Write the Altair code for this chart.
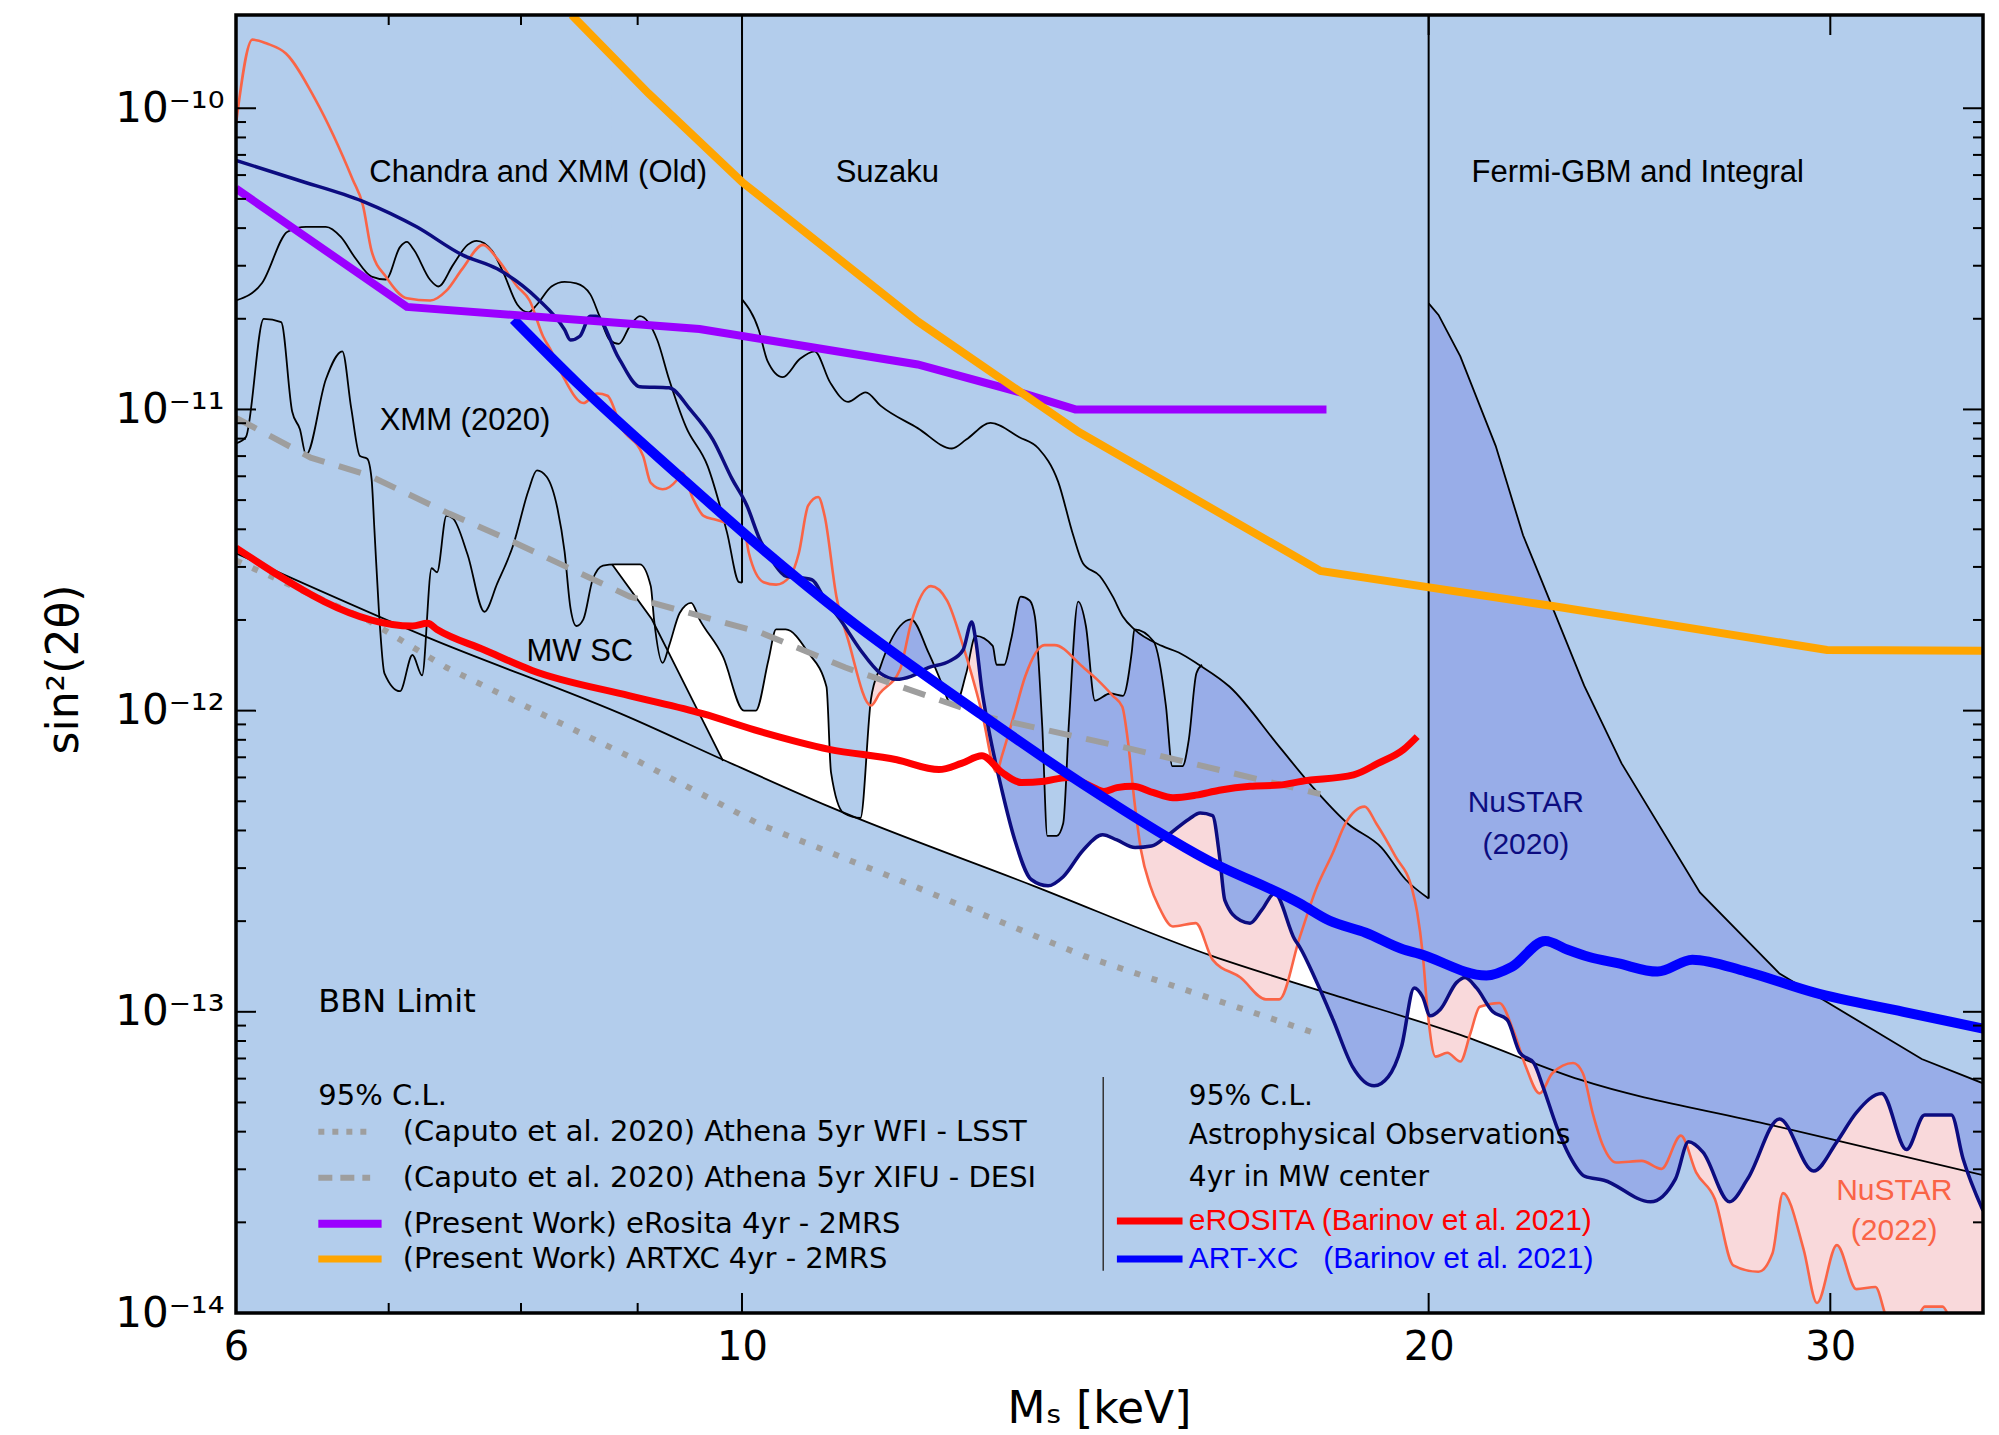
import altair as alt
import pandas as pd

W, H = 1747, 1298
XDOM = [6, 35]
YDOM = [1e-14, 2.04e-10]

LIGHT = "#b3cdec"
DARK = "#98ade8"
PINK = "#f9d9db"
SALMON = "#fa6446"
NAVY = "#0c0c80"
GRAY = "#9e9e9e"

# ---------------- data ----------------
# Chandra and XMM (Old) boundary
A_x = [6.0, 6.16, 6.32, 6.44, 6.57, 6.67, 6.77, 6.88, 6.98, 7.08, 7.13, 7.18, 7.30, 7.36, 7.47, 7.58, 7.65,
       7.77, 7.86, 7.97, 8.06, 8.13, 8.25, 8.36, 8.46, 8.58, 8.66, 8.75, 8.83, 8.93, 9.02, 9.18, 9.29, 9.45,
       9.66, 9.85, 9.97, 10.0]
A_y = [2.3e-11, 2.63e-11, 3.89e-11, 4.04e-11, 4.04e-11, 3.74e-11, 3.17e-11, 2.76e-11, 2.7e-11, 3.46e-11,
       3.6e-11, 3.39e-11, 2.69e-11, 2.56e-11, 3.02e-11, 3.52e-11, 3.63e-11, 3.36e-11, 2.84e-11, 2.23e-11,
       2.1e-11, 2.23e-11, 2.56e-11, 2.65e-11, 2.62e-11, 2.41e-11, 2.04e-11, 1.7e-11, 1.65e-11, 1.89e-11,
       2.04e-11, 1.7e-11, 1.26e-11, 8.75e-12, 6.47e-12, 3.9e-12, 2.67e-12, 2.66e-12]

# XMM (2020) / MW SC boundary
B_x = [6.0, 6.06, 6.17, 6.28, 6.35, 6.40, 6.44, 6.57, 6.68, 6.74, 6.80, 6.85, 6.88, 6.90, 6.93, 6.97, 7.08,
       7.17, 7.24, 7.31, 7.35, 7.42, 7.47, 7.58, 7.71, 7.81, 7.94, 8.06, 8.13, 8.21, 8.30, 8.36, 8.41, 8.46,
       8.52, 8.60, 8.69, 8.80, 9.02, 9.12, 9.15, 9.23, 9.29, 9.39, 9.50, 9.58, 9.81, 10.02, 10.14, 10.27,
       10.35, 10.45, 10.69, 10.89, 10.94, 11.08, 11.27, 11.39, 11.50, 11.73, 11.86, 12.07, 12.25, 12.33,
       12.40, 12.54, 12.66, 12.88, 12.93, 13.03, 13.12, 13.25, 13.37, 13.44, 13.54, 13.61, 13.74, 13.83,
       13.91, 14.04, 14.15, 14.28, 14.50, 14.69, 14.82, 14.86, 15.15, 15.34, 15.44, 15.60, 15.70, 15.82, 15.91]
B_y = [7.71e-12, 8.09e-12, 2.0e-11, 1.95e-11, 9.84e-12, 8.59e-12, 7.07e-12, 1.26e-11, 1.56e-11, 1.01e-11,
       7.0e-12, 6.86e-12, 5.88e-12, 3.97e-12, 2.19e-12, 1.33e-12, 1.16e-12, 1.53e-12, 1.31e-12, 2.97e-12,
       2.88e-12, 4.43e-12, 4.34e-12, 3.3e-12, 2.13e-12, 2.64e-12, 3.57e-12, 5.37e-12, 6.28e-12, 5.98e-12,
       4.69e-12, 3.37e-12, 2.19e-12, 1.91e-12, 2.01e-12, 2.72e-12, 3.03e-12, 3.06e-12, 3.06e-12, 2.59e-12,
       2.01e-12, 1.44e-12, 1.64e-12, 2.11e-12, 2.28e-12, 2.01e-12, 1.51e-12, 1.0e-12, 1.0e-12, 1.47e-12,
       1.86e-12, 1.86e-12, 1.56e-12, 1.2e-12, 6.24e-13, 4.57e-13, 4.4e-13, 1.09e-12, 1.4e-12, 1.91e-12,
       2.01e-12, 1.56e-12, 1.2e-12, 1.06e-12, 1.04e-12, 1.33e-12, 1.77e-12, 1.64e-12, 1.42e-12, 1.42e-12,
       1.72e-12, 2.39e-12, 2.32e-12, 2.05e-12, 8.87e-13, 3.84e-13, 3.84e-13, 4.23e-13, 9.12e-13, 2.3e-12,
       1.91e-12, 1.08e-12, 1.14e-12, 1.12e-12, 1.56e-12, 1.86e-12, 1.7e-12, 1.04e-12, 6.54e-13, 6.54e-13,
       8.03e-13, 1.33e-12, 1.42e-12]

# MW SC edge (visible segment) and the excluded wedge below it
MW_x = [8.77, 9.13, 9.29, 9.81]
MW_y = [3.06e-12, 2.01e-12, 1.55e-12, 6.81e-13]
MWF_x = [6.0, 8.76, 8.77, 9.13, 9.29, 9.81]
MWF_y = [2.04e-10, 2.04e-10, 3.06e-12, 2.01e-12, 1.55e-12, 6.81e-13]

# Suzaku boundary
S_x = [10.0, 10.17, 10.26, 10.42, 10.6, 10.76, 10.93, 11.13, 11.33, 11.5, 11.94, 12.36, 12.54, 12.85, 13.23,
       13.49, 13.76, 13.97, 14.11, 14.35, 14.54, 14.69, 14.86, 15.28, 15.54, 15.86, 16.36, 17.2, 17.8, 18.43,
       19.07, 19.54, 20.0]
S_y = [2.32e-11, 1.84e-11, 1.45e-11, 1.28e-11, 1.47e-11, 1.56e-11, 1.23e-11, 1.06e-11, 1.14e-11, 1.03e-11,
       8.67e-12, 7.42e-12, 7.94e-12, 9.02e-12, 8.09e-12, 7.42e-12, 5.75e-12, 3.82e-12, 3.08e-12, 2.8e-12,
       2.39e-12, 2.05e-12, 1.86e-12, 1.64e-12, 1.56e-12, 1.42e-12, 1.2e-12, 7.59e-13, 5.55e-13, 4.22e-13,
       3.51e-13, 2.75e-13, 2.38e-13]

# Fermi-GBM and Integral boundary
F_x = [20.0, 20.2, 20.65, 21.4, 22.0, 22.4, 23.4, 24.3, 26.3, 28.5, 32.9, 35.0]
F_y = [2.25e-11, 2.06e-11, 1.5e-11, 7.57e-12, 3.82e-12, 2.74e-12, 1.21e-12, 6.68e-13, 2.49e-13, 1.34e-13,
       6.97e-14, 5.79e-14]

# vertical edges at 10 and 20 keV
V_x = [10.0, 20.0]
V_y = [2.66e-12, 2.38e-13]

# BBN limit
BBN_x = [6.0, 7.28, 8.93, 9.81, 10.92, 13.42, 16.08, 18.09, 20.65, 23.3, 28.3, 35.0]
BBN_y = [3.33e-12, 1.75e-12, 9.48e-13, 6.87e-13, 4.8e-13, 2.62e-13, 1.53e-13, 1.15e-13, 8.38e-14, 5.95e-14,
         4.2e-14, 2.87e-14]

# NuSTAR (2020)
N_x = [6.0, 6.38, 6.82, 7.2, 7.54, 7.81, 8.13, 8.36, 8.41, 8.49, 8.58, 8.63, 8.83, 9.02, 9.29, 9.49, 9.71,
       9.9, 10.05, 10.18, 10.32, 10.45, 10.73, 10.87, 11.04, 11.27, 11.5, 11.69, 11.86, 12.07, 12.33, 12.5,
       12.61, 12.66, 12.74, 12.82, 13.0, 13.17, 13.39, 13.62, 13.83, 14.11, 14.39, 14.6, 14.87, 15.12, 15.36,
       15.7, 15.88, 16.08, 16.2, 16.28, 16.54, 16.7, 16.9, 17.12, 17.47, 17.56, 17.85, 18.16, 18.52, 18.93,
       19.2, 19.46, 19.71, 19.88, 20.03, 20.24, 20.57, 20.75, 20.99, 21.34, 21.65, 21.93, 22.24, 22.44, 22.76,
       23.06, 23.42, 23.87, 25.02, 25.66, 26.0, 26.38, 27.1, 27.6, 28.5, 29.5, 30.2, 30.8, 31.6, 32.4, 33.0,
       33.9, 34.3, 35.0]
N_y = [6.71e-11, 5.79e-11, 4.91e-11, 4.04e-11, 3.26e-11, 2.93e-11, 2.34e-11, 1.84e-11, 1.7e-11, 1.75e-11,
       2.04e-11, 2.04e-11, 1.48e-11, 1.19e-11, 1.18e-11, 1.0e-11, 7.94e-12, 5.88e-12, 4.79e-12, 3.71e-12,
       3.11e-12, 2.8e-12, 2.72e-12, 2.35e-12, 2.01e-12, 1.59e-12, 1.33e-12, 1.27e-12, 1.3e-12, 1.39e-12,
       1.46e-12, 1.59e-12, 1.97e-12, 1.72e-12, 1.17e-12, 8.87e-13, 5.44e-13, 3.72e-13, 2.75e-13, 2.62e-13,
       2.81e-13, 3.44e-13, 3.87e-13, 3.72e-13, 3.51e-13, 3.55e-13, 3.84e-13, 4.36e-13, 4.57e-13, 4.48e-13,
       3.21e-13, 2.35e-13, 2.01e-13, 1.97e-13, 2.18e-13, 2.47e-13, 1.74e-13, 1.64e-13, 1.27e-13, 9.41e-14,
       6.58e-14, 5.68e-14, 6.08e-14, 7.67e-14, 1.2e-13, 1.12e-13, 9.7e-14, 1.02e-13, 1.25e-13, 1.3e-13,
       1.2e-13, 1.0e-13, 9.41e-14, 7.31e-14, 6.76e-14, 5.68e-14, 4.16e-14, 3.32e-14, 2.84e-14, 2.76e-14,
       2.34e-14, 2.79e-14, 3.7e-14, 3.42e-14, 2.34e-14, 2.79e-14, 4.41e-14, 2.96e-14, 3.7e-14, 4.63e-14,
       5.36e-14, 3.49e-14, 4.54e-14, 4.54e-14, 3.26e-14, 2.19e-14]

# NuSTAR (2022)
R_x = [6.0, 6.1, 6.19, 6.31, 6.5, 6.75, 6.82, 6.88, 6.98, 7.13, 7.3, 7.42, 7.54, 7.7, 7.81, 7.97, 8.07, 8.18,
       8.25, 8.36, 8.52, 8.64, 8.73, 8.85, 9.05, 9.12, 9.23, 9.36, 9.41, 9.52, 9.62, 9.74, 10.02, 10.07, 10.22,
       10.35, 10.5, 10.59, 10.69, 10.8, 10.87, 11.0, 11.13, 11.39, 11.49, 11.73, 11.86, 12.1, 12.3, 12.5,
       12.74, 12.93, 13.0, 13.17, 13.31, 13.57, 13.71, 14.1, 14.31, 14.54, 14.68, 14.76, 14.87, 14.96, 15.1,
       15.23, 15.45, 15.81, 16.08, 16.54, 16.97, 17.2, 17.56, 17.85, 18.16, 18.39, 18.75, 18.97, 19.34, 19.67,
       19.77, 19.88, 19.98, 20.14, 20.38, 20.65, 20.86, 21.06, 21.48, 21.78, 22.06, 22.37, 22.66, 23.14,
       23.37, 23.6, 23.85, 24.17, 24.8, 25.3, 25.8, 26.2, 26.7, 27.2, 27.9, 28.3, 28.6, 29.2, 29.6, 30.2,
       30.8, 31.4, 31.8, 32.6, 33.0, 33.6, 34.0, 35.0]
R_y = [8.89e-11, 1.69e-10, 1.64e-10, 1.52e-10, 1.07e-10, 5.8e-11, 4.77e-11, 3.36e-11, 2.76e-11, 2.34e-11,
       2.3e-11, 2.48e-11, 2.93e-11, 3.52e-11, 3.17e-11, 2.56e-11, 2.3e-11, 1.75e-11, 1.56e-11, 1.26e-11,
       1.05e-11, 1.13e-11, 1.11e-11, 8.75e-12, 7.0e-12, 5.7e-12, 5.43e-12, 5.81e-12, 6.16e-12, 5.03e-12,
       4.43e-12, 4.3e-12, 3.97e-12, 3.33e-12, 2.67e-12, 2.62e-12, 2.8e-12, 3.33e-12, 4.79e-12, 5.12e-12,
       4.43e-12, 2.39e-12, 1.72e-12, 1.04e-12, 1.14e-12, 1.37e-12, 1.95e-12, 2.59e-12, 2.32e-12, 1.64e-12,
       9.87e-13, 6.24e-13, 7.08e-13, 9.87e-13, 1.3e-12, 1.65e-12, 1.65e-12, 1.4e-12, 1.27e-12, 1.12e-12,
       1.03e-12, 8.03e-13, 4.8e-13, 3.44e-13, 2.62e-13, 2.24e-13, 1.92e-13, 1.97e-13, 1.49e-13, 1.3e-13,
       1.1e-13, 1.1e-13, 1.77e-13, 2.55e-13, 3.38e-13, 4.22e-13, 4.8e-13, 4.22e-13, 3.28e-13, 2.55e-13,
       2.14e-13, 1.56e-13, 1.0e-13, 7.1e-14, 7.31e-14, 6.84e-14, 8.47e-14, 1.04e-13, 1.07e-13, 8.71e-14,
       6.58e-14, 5.36e-14, 6.25e-14, 6.76e-14, 6.25e-14, 4.62e-14, 3.59e-14, 3.16e-14, 3.2e-14, 3.01e-14,
       3.88e-14, 2.93e-14, 2.39e-14, 1.44e-14, 1.37e-14, 1.58e-14, 2.5e-14, 1.63e-14, 1.08e-14, 1.68e-14,
       1.2e-14, 1.22e-14, 9.5e-15, 9.0e-15, 1.05e-14, 1.05e-14, 9.0e-15, 8.5e-15]

# eROSITA (Barinov et al. 2021)
E_x = [6.0, 7.17, 7.28, 7.35, 7.71, 8.09, 8.93, 9.61, 10.18, 10.92, 11.69, 12.2, 12.48, 12.74, 13.0, 13.26,
       13.57, 13.89, 14.22, 14.41, 14.6, 14.84, 15.15, 15.45, 15.81, 16.19, 16.7, 17.2, 17.6, 18.54, 19.0,
       19.5, 19.77]
E_y = [3.47e-12, 1.91e-12, 1.95e-12, 1.86e-12, 1.59e-12, 1.36e-12, 1.12e-12, 9.77e-13, 8.53e-13, 7.44e-13,
       6.87e-13, 6.37e-13, 6.68e-13, 7.08e-13, 6.24e-13, 5.77e-13, 5.83e-13, 6.0e-13, 5.61e-13, 5.39e-13,
       5.55e-13, 5.61e-13, 5.34e-13, 5.14e-13, 5.24e-13, 5.44e-13, 5.61e-13, 5.66e-13, 5.83e-13, 6.12e-13,
       6.68e-13, 7.43e-13, 8.2e-13]

# ART-XC (Barinov et al. 2021)
T_x = [7.94, 8.48, 9.38, 10.18, 11.1, 12.71, 14.13, 16.0, 17.56, 18.09, 18.77, 19.5, 19.8, 21.2, 21.75, 22.5,
       23.0, 23.52, 24.2, 25.2, 26.1, 27.56, 29.5, 32.3, 35.0]
T_y = [1.99e-11, 1.21e-11, 6.04e-12, 3.5e-12, 2.05e-12, 9.79e-13, 5.66e-13, 3.19e-13, 2.29e-13, 2.01e-13,
       1.83e-13, 1.61e-13, 1.56e-13, 1.32e-13, 1.41e-13, 1.72e-13, 1.61e-13, 1.52e-13, 1.45e-13, 1.36e-13,
       1.49e-13, 1.36e-13, 1.16e-13, 1.0e-13, 8.8e-14]

# Athena WFI - LSST (dotted) and XIFU - DESI (dashed)
AW_x = [6.0, 6.86, 7.42, 8.09, 8.93, 10.18, 11.66, 14.13, 17.93]
AW_y = [3.15e-12, 1.99e-12, 1.39e-12, 1.01e-12, 7.02e-13, 4.19e-13, 2.78e-13, 1.53e-13, 8.38e-14]
AX_x = [6.0, 6.47, 6.86, 7.44, 7.89, 8.93, 10.18, 11.1, 12.85, 14.84, 17.93]
AX_y = [9.38e-12, 6.92e-12, 6.04e-12, 4.51e-12, 3.71e-12, 2.39e-12, 1.82e-12, 1.39e-12, 9.48e-13, 7.44e-13,
        5.28e-13]

# Present work: eRosita 4yr - 2MRS (purple), ARTXC 4yr - 2MRS (orange)
P_x = [6.0, 7.13, 9.58, 11.94, 13.24, 14.0, 18.04]
P_y = [5.41e-11, 2.19e-11, 1.85e-11, 1.41e-11, 1.14e-11, 1.0e-11, 1.0e-11]
O_x = [8.42, 9.10, 10.0, 11.94, 14.05, 17.93, 22.7, 29.9, 35.0]
O_y = [2.04e-10, 1.12e-10, 5.69e-11, 1.96e-11, 8.41e-12, 2.91e-12, 2.22e-12, 1.59e-12, 1.58e-12]

# annotations
REGION_TXT = ["Chandra and XMM (Old)", "Suzaku", "Fermi-GBM and Integral", "XMM (2020)", "MW SC"]
REGION_X = [8.14, 11.58, 24.7, 7.56, 8.49]
REGION_Y = [6.08e-11, 6.08e-11, 6.08e-11, 9.18e-12, 1.57e-12]
NU20_TXT = ["NuSTAR", "(2020)"]
NU20_X = [22.06, 22.06]
NU20_Y = [4.94e-13, 3.58e-13]
NU22_TXT = ["NuSTAR", "(2022)"]
NU22_X = [32.0, 32.0]
NU22_Y = [2.55e-14, 1.87e-14]

# legend blocks
LEG_L_TXT = ["(Caputo et al. 2020) Athena 5yr WFI - LSST", "(Caputo et al. 2020) Athena 5yr XIFU - DESI",
             "(Present Work) eRosita 4yr - 2MRS", "(Present Work) ARTXC 4yr - 2MRS"]
LEG_L_Y = [4.0e-14, 2.81e-14, 1.98e-14, 1.51e-14]
LEG_R_TXT = ["95% C.L.", "Astrophysical Observations", "4yr in MW center"]
LEG_R_Y = [5.2e-14, 3.88e-14, 2.81e-14]

# axis ticks
Y_MAJOR = [1e-14, 1e-13, 1e-12, 1e-11, 1e-10]
Y_MINOR = [k * 10.0 ** e for e in range(-14, -10) for k in range(2, 10)]
X_MAJOR = [10, 20, 30]
X_MINOR = [7, 8, 9]

# ---------------- chart ----------------
YLAB = ("datum.value < 3e-14 ? '10⁻¹⁴' : datum.value < 3e-13 ? '10⁻¹³' : "
        "datum.value < 3e-12 ? '10⁻¹²' : datum.value < 3e-11 ? '10⁻¹¹' : '10⁻¹⁰'")

x_axis = alt.Axis(values=[6, 10, 20, 30], labelExpr="'' + datum.value", title="Mₛ [keV]",
                  ticks=False, domain=False, grid=False, labelFont="DejaVu Sans", labelFontSize=40,
                  labelPadding=14, labelFlush=False, labelColor="black", labelOverlap=False,
                  titleFont="DejaVu Sans", titleFontSize=44, titleFontWeight="normal", titleColor="black",
                  titleX=863, titleY=96, titleBaseline="middle", titleAlign="center")
y_axis = alt.Axis(values=Y_MAJOR, labelExpr=YLAB, title="sin²(2θ)",
                  ticks=False, domain=False, grid=False, labelFont="DejaVu Sans", labelFontSize=42,
                  labelPadding=12, labelColor="black", labelOverlap=False, labelFlush=False,
                  titleFont="DejaVu Sans", titleFontSize=44, titleFontWeight="normal", titleColor="black",
                  titleX=-172, titleY=654, titleAngle=270, titleAlign="center", titleBaseline="middle")

XS = alt.Scale(type="log", domain=XDOM, nice=False)
YS = alt.Scale(type="log", domain=YDOM, nice=False)


def X():
    return alt.X("x:Q", scale=XS, axis=x_axis)


def Y():
    return alt.Y("y:Q", scale=YS, axis=y_axis, stack=None)


def frame(xs, ys):
    return pd.DataFrame({"x": xs, "y": ys})


def line(xs, ys, color, width, interp="linear", dash=None):
    kw = dict(color=color, strokeWidth=width, interpolate=interp, clip=True, strokeCap="butt")
    if dash is not None:
        kw["strokeDash"] = dash
    return alt.Chart(frame(xs, ys)).mark_line(**kw).encode(x=X(), y=Y())


def fill(xs, ys, color, interp="linear", to="top"):
    y2 = alt.value(0) if to == "top" else alt.value(H)
    return alt.Chart(frame(xs, ys)).mark_area(color=color, opacity=1, interpolate=interp,
                                             clip=True).encode(x=X(), y=Y(), y2=y2)


def text(xs, ys, labels, color, font, size, align="center"):
    d = pd.DataFrame({"x": xs, "y": ys, "t": labels})
    return alt.Chart(d).mark_text(color=color, font=font, fontSize=size, align=align,
                                  baseline="middle").encode(x=X(), y=Y(), text="t:N")


def yticks(vals, x0, x1):
    return alt.Chart(pd.DataFrame({"y": vals})).mark_rule(color="black", strokeWidth=2).encode(
        y=Y(), x=alt.value(x0), x2=alt.value(x1))


def xticks(vals, y0, y1):
    return alt.Chart(pd.DataFrame({"x": vals})).mark_rule(color="black", strokeWidth=2).encode(
        x=X(), y=alt.value(y0), y2=alt.value(y1))


M = "monotone"
layers = [
    # exclusion fills
    fill(BBN_x, BBN_y, LIGHT, M, to="bottom"),
    fill(R_x, R_y, PINK, M),
    fill(N_x, N_y, DARK, M),
    fill(A_x, A_y, LIGHT, M),
    fill(B_x, B_y, LIGHT, M),
    fill(S_x, S_y, LIGHT, M),
    fill(F_x, F_y, LIGHT),
    fill(MWF_x, MWF_y, LIGHT, to="bottom"),
    # black outlines
    line(A_x, A_y, "black", 1.8, M),
    line(B_x, B_y, "black", 1.8, M),
    line(MW_x, MW_y, "black", 1.8),
    line(S_x, S_y, "black", 1.8, M),
    line(F_x, F_y, "black", 1.8),
    line(BBN_x, BBN_y, "black", 1.8, M),
    alt.Chart(frame(V_x, V_y)).mark_rule(color="black", strokeWidth=2).encode(
        x=X(), y=Y(), y2=alt.value(0)),
    # observation curves
    line(R_x, R_y, SALMON, 2.6, M),
    line(N_x, N_y, NAVY, 3.5, M),
    line(AW_x, AW_y, GRAY, 6, dash=[6, 12]),
    line(AX_x, AX_y, GRAY, 6, dash=[23, 15]),
    line(E_x, E_y, "#ff0000", 7, M),
    line(T_x, T_y, "#0000ff", 10, M),
    line(P_x, P_y, "#9b00ff", 8),
    line(O_x, O_y, "#ffa500", 8),
    # annotations
    text(REGION_X, REGION_Y, REGION_TXT, "black", "Liberation Sans", 31),
    text(NU20_X, NU20_Y, NU20_TXT, NAVY, "Liberation Sans", 30),
    text(NU22_X, NU22_Y, NU22_TXT, SALMON, "Liberation Sans", 30),
    text([6.52], [1.08e-13], ["BBN Limit"], "black", "DejaVu Sans", 32, align="left"),
    # legend (left block)
    text([6.52], [5.25e-14], ["95% C.L."], "black", "DejaVu Sans", 29, align="left"),
    text([7.1] * 4, LEG_L_Y, LEG_L_TXT, "black", "DejaVu Sans", 29, align="left"),
    line([6.52, 6.87], [4.0e-14, 4.0e-14], GRAY, 6, dash=[6, 8]),
    line([6.52, 6.87], [2.81e-14, 2.81e-14], GRAY, 6, dash=[14, 8]),
    line([6.52, 6.95], [1.98e-14, 1.98e-14], "#9b00ff", 8),
    line([6.52, 6.95], [1.51e-14, 1.51e-14], "#ffa500", 7),
    # legend (right block)
    alt.Chart(pd.DataFrame({"x": [14.4], "y": [6.08e-14], "y2": [1.38e-14]})).mark_rule(
        color="#333333", strokeWidth=1.5).encode(x=X(), y=Y(), y2="y2:Q"),
    text([15.7] * 3, LEG_R_Y, LEG_R_TXT, "black", "DejaVu Sans", 28, align="left"),
    text([15.7], [2.02e-14], ["eROSITA (Barinov et al. 2021)"], "#ff0000", "Liberation Sans", 30, align="left"),
    text([15.7], [1.51e-14], ["ART-XC\u00a0\u00a0\u00a0(Barinov et al. 2021)"], "#0000ff", "Liberation Sans", 30,
         align="left"),
    line([14.6, 15.6], [2.02e-14, 2.02e-14], "#ff0000", 7),
    line([14.6, 15.6], [1.51e-14, 1.51e-14], "#0000ff", 7),
    # inward ticks on all four sides
    yticks(Y_MAJOR, 0, 20), yticks(Y_MINOR, 0, 10),
    yticks(Y_MAJOR, W, W - 20), yticks(Y_MINOR, W, W - 10),
    xticks(X_MAJOR, H, H - 20), xticks(X_MINOR, H, H - 10),
    xticks(X_MAJOR, 0, 20), xticks(X_MINOR, 0, 10),
    # frame
    alt.Chart(pd.DataFrame({"a": [0]})).mark_rect(fillOpacity=0, stroke="black", strokeWidth=3.5).encode(
        x=alt.value(0), x2=alt.value(W), y=alt.value(0), y2=alt.value(H)),
]

chart = alt.layer(*layers).properties(
    width=W, height=H,
    padding={"left": 236, "top": 15, "right": 16, "bottom": 122},
    autosize=alt.AutoSizeParams(type="none"),
    background="white",
).configure_view(stroke=None, fill="white")

chart.save("out.html", embed_options={"renderer": "svg", "actions": False})
